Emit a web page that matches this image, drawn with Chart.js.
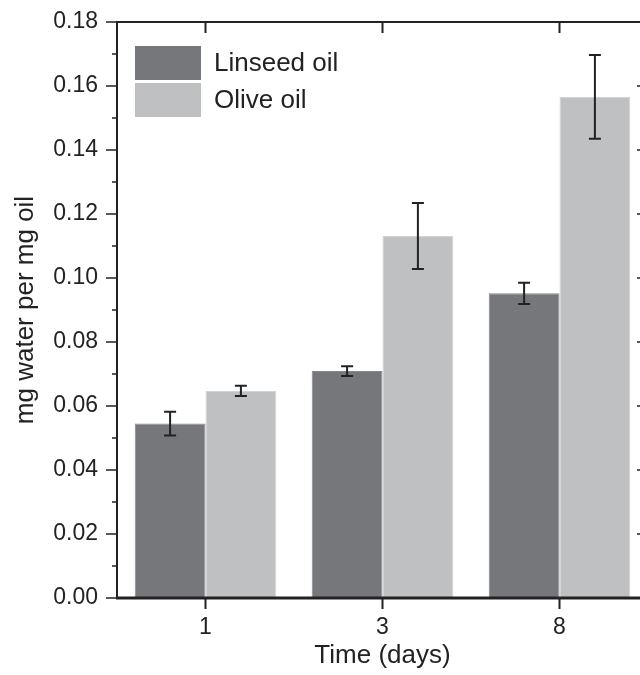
<!DOCTYPE html>
<html>
<head>
<meta charset="utf-8">
<script src="https://cdn.jsdelivr.net/npm/chart.js@4"></script>
<style>
  html, body { margin: 0; padding: 0; background: #fff; overflow: hidden; }
  #wrap { width: 680px; height: 675px; }
</style>
</head>
<body>
<div id="wrap"><canvas id="myChart" width="680" height="675"></canvas></div>
<script>
const days = ['1', '3', '8'];
const linseed = [0.0545, 0.0709, 0.0952];
const linseedErr = [0.0037, 0.0015, 0.0033];
const olive = [0.0647, 0.1131, 0.1566];
const oliveErr = [0.0016, 0.0103, 0.0131];
const yTicks = [0, 0.02, 0.04, 0.06, 0.08, 0.10, 0.12, 0.14, 0.16, 0.18];

const FONT = "'Liberation Sans', Arial, sans-serif";
const INK = '#222';

// axes box, ticks on all four sides, error bars and legend
const framePlugin = {
    id: 'frame',
    afterDatasetsDraw(chart) {
        const ctx = chart.ctx;
        const a = chart.chartArea;
        const x = chart.scales.x, y = chart.scales.y;
        ctx.save();
        ctx.strokeStyle = INK;

        ctx.lineWidth = 1.5;
        for (let i = 0; i < yTicks.length; i++) {
            const py = y.getPixelForValue(yTicks[i]);
            ctx.beginPath();
            ctx.moveTo(a.left - 11, py); ctx.lineTo(a.left, py);
            ctx.moveTo(a.right - 11, py); ctx.lineTo(a.right, py);
            ctx.stroke();
            if (i < yTicks.length - 1) {
                const pm = y.getPixelForValue(yTicks[i] + 0.01);
                ctx.beginPath();
                ctx.moveTo(a.left - 5, pm); ctx.lineTo(a.left, pm);
                ctx.moveTo(a.right - 5, pm); ctx.lineTo(a.right, pm);
                ctx.stroke();
            }
        }

        ctx.lineWidth = 2;
        days.forEach((d, i) => {
            const px = x.getPixelForValue(i);
            ctx.beginPath();
            ctx.moveTo(px, a.bottom); ctx.lineTo(px, a.bottom + 11);
            ctx.moveTo(px, a.top); ctx.lineTo(px, a.top + 11);
            ctx.stroke();
        });

        ctx.lineWidth = 2;
        ctx.beginPath();
        ctx.moveTo(a.left, a.bottom); ctx.lineTo(a.left, a.top);
        ctx.lineTo(a.right, a.top); ctx.lineTo(a.right, a.bottom);
        ctx.stroke();
        ctx.lineWidth = 3;
        ctx.beginPath();
        ctx.moveTo(a.left - 1, a.bottom); ctx.lineTo(a.right + 1, a.bottom);
        ctx.stroke();

        // error bars
        const errs = [linseedErr, oliveErr];
        ctx.lineWidth = 2;
        chart.data.datasets.forEach((ds, di) => {
            const meta = chart.getDatasetMeta(di);
            meta.data.forEach((bar, i) => {
                const v = ds.data[i], e = errs[di][i];
                const top = y.getPixelForValue(v + e);
                const bot = y.getPixelForValue(v - e);
                ctx.beginPath();
                ctx.moveTo(bar.x, top); ctx.lineTo(bar.x, bot);
                ctx.moveTo(bar.x - 6, top); ctx.lineTo(bar.x + 6, top);
                ctx.moveTo(bar.x - 6, bot); ctx.lineTo(bar.x + 6, bot);
                ctx.stroke();
            });
        });

        // legend inside the plot
        ctx.font = '26px ' + FONT;
        ctx.textBaseline = 'middle';
        ctx.textAlign = 'left';
        chart.data.datasets.forEach((ds, di) => {
            const ty = a.top + 24 + di * 37;
            ctx.fillStyle = ds.backgroundColor;
            ctx.fillRect(a.left + 18, ty, 66, 34);
            ctx.fillStyle = INK;
            ctx.fillText(ds.label, a.left + 97, ty + 18);
        });
        ctx.restore();
    }
};

new Chart(document.getElementById('myChart'), {
    type: 'bar',
    data: {
        labels: days,
        datasets: [
            { label: 'Linseed oil', data: linseed, backgroundColor: '#76777b', borderColor: '#86878a', borderWidth: 1 },
            { label: 'Olive oil', data: olive, backgroundColor: '#bfc0c2', borderColor: '#d2d3d5', borderWidth: 1 }
        ]
    },
    options: {
        responsive: false,
        animation: false,
        layout: { padding: { top: 22, right: 32, bottom: 0, left: 0 } },
        datasets: { bar: { categoryPercentage: 0.8, barPercentage: 1.0 } },
        plugins: { legend: { display: false }, tooltip: { enabled: false } },
        scales: {
            x: {
                grid: { display: false, drawTicks: false },
                border: { display: false },
                ticks: { color: INK, font: { family: FONT, size: 23 }, padding: 16 },
                title: { display: true, text: 'Time (days)', color: INK, font: { family: FONT, size: 26 }, padding: { top: 0, bottom: 4 } },
                afterFit(s) { s.height = 77; s.paddingLeft = 0; s.paddingRight = 0; }
            },
            y: {
                min: 0, max: 0.18,
                grid: { display: false, drawTicks: false },
                border: { display: false },
                ticks: {
                    stepSize: 0.02, color: INK, padding: 19,
                    font: { family: FONT, size: 23 },
                    callback: v => v.toFixed(2)
                },
                title: { display: true, text: 'mg water per mg oil', color: INK, font: { family: FONT, size: 26 }, padding: { top: 10, bottom: 0 } },
                afterFit(s) { s.width = 117; s.paddingTop = 0; s.paddingBottom = 0; }
            }
        }
    },
    plugins: [framePlugin]
});
</script>
</body>
</html>
